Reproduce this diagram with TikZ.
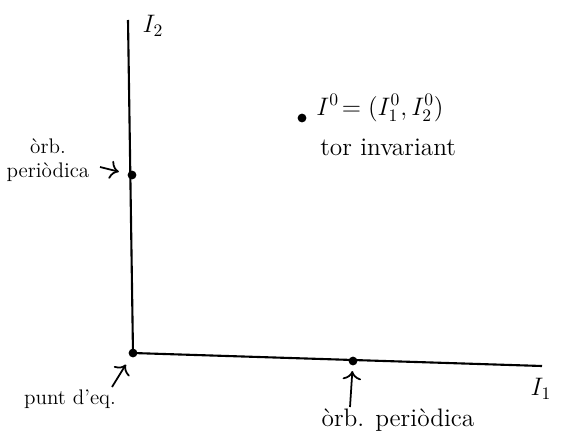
\documentclass[tikz,border=0pt]{standalone}
\usepackage{tikz}
\usetikzlibrary{arrows.meta, positioning}

\begin{document}
\begin{tikzpicture}[x=0.02cm, y=-0.02cm,
  axis/.style={line width=1.2pt},
  pt/.style={circle, fill, inner sep=0pt, minimum size=5pt},
  lbl/.style={font=\Large, align=center, inner sep=0pt},
  arr/.style={-{To[length=5pt]}, line width=1pt}
]
  \useasboundingbox (0,0) rectangle (563,439);

  % Axes
  \coordinate (O) at (133,353);
  \coordinate (top) at (128,20);
  \coordinate (right) at (542,366);
  \draw[axis] (O) -- (top);
  \draw[axis] (O) -- (right);
  \node[font=\Large] (i2) at (153,26) {$I_2$};
  \node[font=\Large] (i1) at (541,389) {$I_1$};

  % Points
  \node[pt] (eq) at (O) {};
  \node[pt] (pv) at (132,175) {};
  \node[pt] (ph) at (353,361) {};
  \node[pt] (tor) at (302,118) {};

  % Labels
  \node[lbl, right] (torlab) at (316,108) {$I^0\!= (I^0_1, I^0_2)$};
  \node[lbl, right] (torname) at (320,147) {tor invariant};
  \node[lbl, font=\large] (pvlab) at (48,160) {òrb.\\periòdica};
  \node[lbl, font=\large] (eqlab) at (70,399) {punt d'eq.};
  \node[lbl] (phlab) at (398,420) {òrb. periòdica};
  \coordinate (pvtail) at (100,167);
  \coordinate (eqtail) at (112,387);
  \coordinate (phtail) at (350,407);

  % Arrows
  \draw[arr, shorten >=5pt] (pvtail) -- (pv);
  \draw[arr, shorten >=5pt] (eqtail) -- (eq);
  \draw[arr, shorten >=3pt] (phtail) -- (ph);
\end{tikzpicture}
\end{document}
